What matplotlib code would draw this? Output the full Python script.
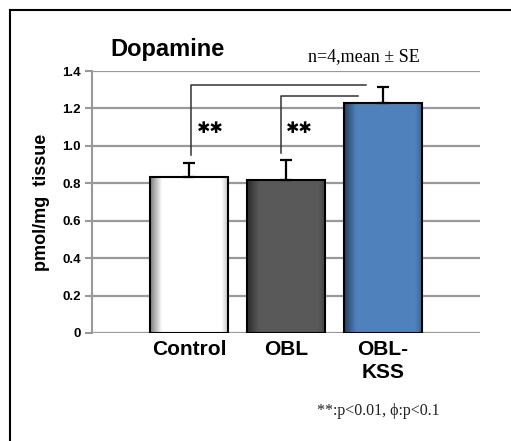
import numpy as np
import matplotlib
matplotlib.use("Agg")
import matplotlib.pyplot as plt
from matplotlib.lines import Line2D

groups = ["Control", "OBL", "OBL-\nKSS"]
means = [0.834, 0.816, 1.231]
errors = [0.076, 0.107, 0.082]
colors = ["#ffffff", "#595959", "#4f81bd"]
yticks = [0, 0.2, 0.4, 0.6, 0.8, 1.0, 1.2, 1.4]
ytick_labels = ["0", "0.2", "0.4", "0.6", "0.8", "1.0", "1.2", "1.4"]

fig = plt.figure(figsize=(5.11, 4.41), dpi=100)
ax = fig.add_axes([0.180, 0.245, 0.759, 0.594])

x = np.arange(len(groups))
bars = ax.bar(x, means, width=0.8, color=colors, edgecolor="black",
              linewidth=1.5, zorder=3)

# soft shading on the bars, like the old office charts
shade = np.linspace(0, 1, 64)
alpha = np.clip(1 - shade / 0.15, 0, 1) * 0.5 + np.clip((shade - 0.92) / 0.08, 0, 1) * 0.2
for b in bars:
    img = np.zeros((1, 64, 4))
    img[..., 3] = alpha
    x0, w, h = b.get_x(), b.get_width(), b.get_height()
    im = ax.imshow(img, extent=[x0, x0 + w, 0, h], aspect="auto", zorder=3.5,
                   interpolation="bilinear")
    im.set_clip_path(b)

ax.errorbar(x, means, yerr=[np.zeros(3), errors], fmt="none", ecolor="black",
            elinewidth=1.6, capsize=4, capthick=1.6, zorder=4)

ax.set_xlim(-1, 3)
ax.set_ylim(0, 1.4)
ax.set_yticks(yticks)
ax.set_yticklabels(ytick_labels, fontsize=9.5, fontweight="bold",
                   family="Liberation Sans")
ax.set_xticks(x)
ax.set_xticklabels(groups, fontsize=15, fontweight="bold",
                   family="Liberation Sans", linespacing=1.3)
ax.tick_params(axis="x", length=0, pad=5)
ax.tick_params(axis="y", length=5, width=1.5, color="#999999", pad=3)
ax.yaxis.grid(True, color="#999999", linewidth=1.6, zorder=0)
ax.set_axisbelow(True)
for s in ["top", "right", "bottom"]:
    ax.spines[s].set_visible(False)
ax.spines["left"].set_color("#999999")
ax.spines["left"].set_linewidth(1.5)
ax.set_ylabel("pmol/mg  tissue", fontsize=13, fontweight="bold",
              family="Liberation Sans", labelpad=9)

# significance brackets
ax.plot([0.02, 0.02, 1.83], [0.95, 1.325, 1.325], color="#333333", lw=1.1, zorder=5)
ax.plot([0.95, 0.95, 1.74], [0.963, 1.265, 1.265], color="#333333", lw=1.1, zorder=5)
ax.text(0.22, 1.095, "✱✱", fontsize=11.5, ha="center", va="center", family="DejaVu Sans")
ax.text(1.14, 1.095, "✱✱", fontsize=11.5, ha="center", va="center", family="DejaVu Sans")

fig.text(0.328, 0.887, "Dopamine", fontsize=17, fontweight="bold",
         family="Liberation Sans", ha="center", va="center")
fig.text(0.713, 0.871, "n=4,mean ± SE", fontsize=13, family="Liberation Serif",
         ha="center", va="center")
fig.text(0.741, 0.068, "**:p<0.01, ϕ:p<0.1", fontsize=11.5, family="Liberation Serif",
         ha="center", va="center", color="#222222")

# outer frame (left and top only)
fig.add_artist(Line2D([0.02, 0.02], [0.0, 0.977], color="black", lw=1.5))
fig.add_artist(Line2D([0.02, 1.0], [0.977, 0.977], color="black", lw=1.5))

fig.savefig("out.png", dpi=100)
